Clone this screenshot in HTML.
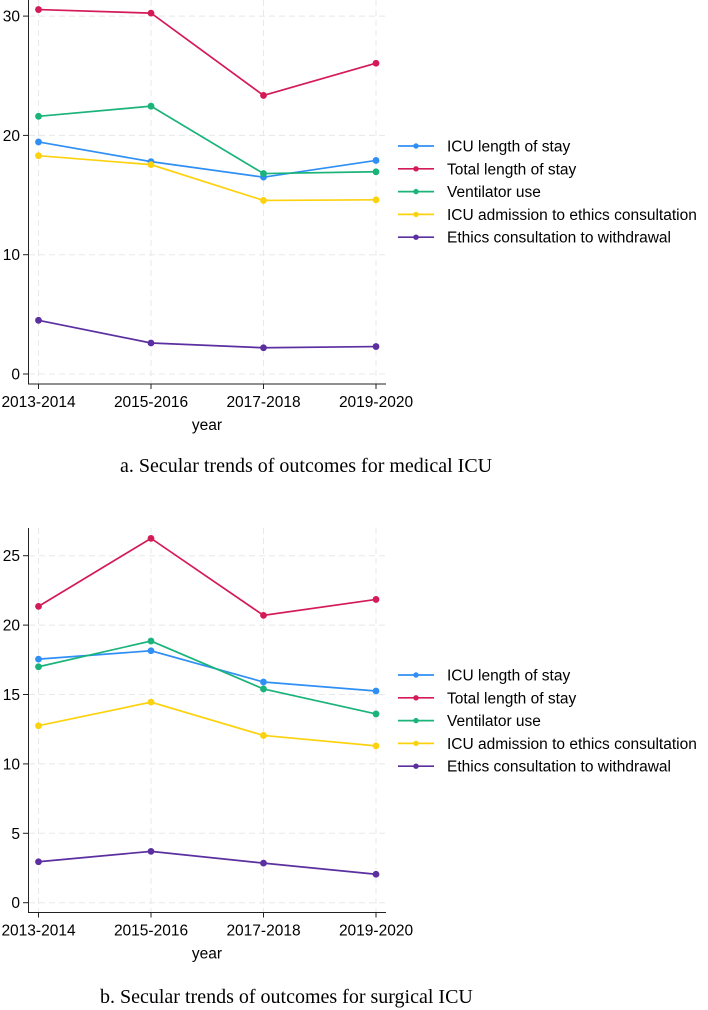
<!DOCTYPE html>
<html><head><meta charset="utf-8"><style>
body{margin:0;background:#fff;width:708px;height:1010px;overflow:hidden}
svg{display:block;font-family:"Liberation Sans",sans-serif}
.cap{font-family:"Liberation Serif",serif;font-size:20px}
</style></head><body>
<svg id="s" width="708" height="1010"></svg>
<script>
const categories=["2013-2014","2015-2016","2017-2018","2019-2020"];
const seriesNames=["ICU length of stay","Total length of stay","Ventilator use","ICU admission to ethics consultation","Ethics consultation to withdrawal"];
const colors=["#2f8ff5","#d41a57","#1ab37a","#fcd20f","#5b2fa0"];
const medIcu=[19.45,17.8,16.5,17.9];
const medTotal=[30.55,30.25,23.35,26.05];
const medVent=[21.6,22.45,16.8,16.95];
const medAdm=[18.3,17.55,14.55,14.6];
const medEth=[4.5,2.6,2.2,2.3];
const surIcu=[17.55,18.15,15.9,15.25];
const surTotal=[21.35,26.25,20.7,21.85];
const surVent=[17.0,18.85,15.4,13.6];
const surAdm=[12.75,14.45,12.05,11.3];
const surEth=[2.95,3.7,2.85,2.05];
const medTicks=[0,10,20,30];
const surTicks=[0,5,10,15,20,25];
const NS="http://www.w3.org/2000/svg";
const svg=document.getElementById('s');
function mk(t,a,p){const e=document.createElementNS(NS,t);for(const k in a)e.setAttribute(k,a[k]);(p||svg).appendChild(e);return e;}
function chart(o){
  const g=mk('g',{});
  
  
  const xs=i=>38.5+i*112.5;
  const ys=v=>o.y0-v*o.ppu;
  o.ticks.forEach(t=>{mk('line',{x1:29,x2:385,y1:ys(t),y2:ys(t),stroke:'#e8e8e8','stroke-dasharray':'6 4'},g);});
  categories.forEach((c,i)=>{mk('line',{x1:xs(i),x2:xs(i),y1:o.top,y2:o.bottom,stroke:'#e8e8e8','stroke-dasharray':'6 4'},g);});
  const ya=mk('line',{x1:28.5,x2:28.5,y1:o.top,y2:o.bottom,stroke:'#222','stroke-width':1},g);
  
  const xa=mk('line',{x1:28,x2:386,y1:o.bottom,y2:o.bottom,stroke:'#222','stroke-width':1},g);
  
  o.ticks.forEach(t=>{
    mk('line',{x1:23,x2:28,y1:ys(t),y2:ys(t),stroke:'#222'},g);
    const tx=mk('text',{x:20,y:ys(t)+5.5,'text-anchor':'end','font-size':15.5},g);tx.textContent=t;
    
  });
  categories.forEach((c,i)=>{
    mk('line',{x1:xs(i),x2:xs(i),y1:o.bottom,y2:o.bottom+5,stroke:'#222'},g);
    const tx=mk('text',{x:xs(i),y:o.bottom+23,'text-anchor':'middle','font-size':15.5},g);tx.textContent=c;
    
  });
  const yl=mk('text',{x:207,y:o.bottom+46,'text-anchor':'middle','font-size':15.5},g);yl.textContent='year';
  
  o.series.forEach((d,s)=>{
    const p=mk('polyline',{points:d.map((v,i)=>xs(i)+','+ys(v)).join(' '),fill:'none',stroke:colors[s],'stroke-width':1.7},g);
    
    d.forEach((v,i)=>{const c=mk('circle',{cx:xs(i),cy:ys(v),r:3.4,fill:colors[s]},g);
      });
  });
  const lg=mk('g',{},g);
  
  seriesNames.forEach((n,s)=>{
    const y=o.legY+s*22.8;
    mk('line',{x1:398,x2:434,y1:y,y2:y,stroke:colors[s],'stroke-width':1.7},lg);
    mk('circle',{cx:416,cy:y,r:2.7,fill:colors[s]},lg);
    const t=mk('text',{x:447,y:y+5.5,'font-size':15.5},lg);t.textContent=n;
    
  });
  const cp=mk('text',{x:o.capX,y:o.capY,class:'cap'},g);cp.textContent=o.cap;
  
}
chart({name:'medical-icu-chart',y0:374,ppu:11.93,top:0,bottom:384,ticks:medTicks,series:[medIcu,medTotal,medVent,medAdm,medEth],legY:146,capX:120,capY:472,cap:'a. Secular trends of outcomes for medical ICU'});
chart({name:'surgical-icu-chart',y0:902.7,ppu:13.88,top:528,bottom:912.5,ticks:surTicks,series:[surIcu,surTotal,surVent,surAdm,surEth],legY:675,capX:100,capY:1003,cap:'b. Secular trends of outcomes for surgical ICU'});
</script>
</body></html>
